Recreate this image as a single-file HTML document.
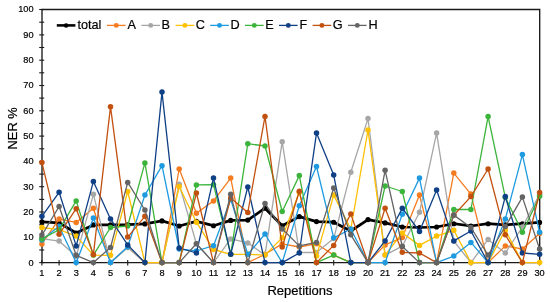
<!DOCTYPE html>
<html><head><meta charset="utf-8"><title>NER chart</title>
<style>
html,body{margin:0;padding:0;background:#fff;}
body{width:550px;height:302px;overflow:hidden;font-family:"Liberation Sans",sans-serif;}
svg{display:block;}
text{font-family:"Liberation Sans",sans-serif;fill:#000;stroke:#000;stroke-width:0.2px;}
</style></head><body>
<svg width="550" height="302" viewBox="0 0 550 302">
<rect width="550" height="302" fill="#fff"/>
<g stroke="#1a1a1a" stroke-width="1.35" fill="none"><path d="M41.4 9.5 H539.7 V262.6"/><path d="M42.0 9.5 V262.6 H540.3"/></g><g stroke="#1a1a1a" stroke-width="1.1"><line x1="39.2" x2="44.2" y1="262.6" y2="262.6"/><line x1="39.2" x2="44.2" y1="250.0" y2="250.0"/><line x1="39.2" x2="44.2" y1="237.3" y2="237.3"/><line x1="39.2" x2="44.2" y1="224.7" y2="224.7"/><line x1="39.2" x2="44.2" y1="212.0" y2="212.0"/><line x1="39.2" x2="44.2" y1="199.4" y2="199.4"/><line x1="39.2" x2="44.2" y1="186.7" y2="186.7"/><line x1="39.2" x2="44.2" y1="174.1" y2="174.1"/><line x1="39.2" x2="44.2" y1="161.4" y2="161.4"/><line x1="39.2" x2="44.2" y1="148.8" y2="148.8"/><line x1="39.2" x2="44.2" y1="136.1" y2="136.1"/><line x1="39.2" x2="44.2" y1="123.4" y2="123.4"/><line x1="39.2" x2="44.2" y1="110.8" y2="110.8"/><line x1="39.2" x2="44.2" y1="98.1" y2="98.1"/><line x1="39.2" x2="44.2" y1="85.5" y2="85.5"/><line x1="39.2" x2="44.2" y1="72.8" y2="72.8"/><line x1="39.2" x2="44.2" y1="60.2" y2="60.2"/><line x1="39.2" x2="44.2" y1="47.5" y2="47.5"/><line x1="39.2" x2="44.2" y1="34.9" y2="34.9"/><line x1="39.2" x2="44.2" y1="22.2" y2="22.2"/><line x1="39.2" x2="44.2" y1="9.5" y2="9.5"/><line x1="41.9" x2="41.9" y1="260.1" y2="265.4"/><line x1="59.1" x2="59.1" y1="260.1" y2="265.4"/><line x1="76.2" x2="76.2" y1="260.1" y2="265.4"/><line x1="93.4" x2="93.4" y1="260.1" y2="265.4"/><line x1="110.5" x2="110.5" y1="260.1" y2="265.4"/><line x1="127.7" x2="127.7" y1="260.1" y2="265.4"/><line x1="144.9" x2="144.9" y1="260.1" y2="265.4"/><line x1="162.0" x2="162.0" y1="260.1" y2="265.4"/><line x1="179.2" x2="179.2" y1="260.1" y2="265.4"/><line x1="196.4" x2="196.4" y1="260.1" y2="265.4"/><line x1="213.5" x2="213.5" y1="260.1" y2="265.4"/><line x1="230.7" x2="230.7" y1="260.1" y2="265.4"/><line x1="247.8" x2="247.8" y1="260.1" y2="265.4"/><line x1="265.0" x2="265.0" y1="260.1" y2="265.4"/><line x1="282.2" x2="282.2" y1="260.1" y2="265.4"/><line x1="299.3" x2="299.3" y1="260.1" y2="265.4"/><line x1="316.5" x2="316.5" y1="260.1" y2="265.4"/><line x1="333.7" x2="333.7" y1="260.1" y2="265.4"/><line x1="350.8" x2="350.8" y1="260.1" y2="265.4"/><line x1="368.0" x2="368.0" y1="260.1" y2="265.4"/><line x1="385.1" x2="385.1" y1="260.1" y2="265.4"/><line x1="402.3" x2="402.3" y1="260.1" y2="265.4"/><line x1="419.5" x2="419.5" y1="260.1" y2="265.4"/><line x1="436.6" x2="436.6" y1="260.1" y2="265.4"/><line x1="453.8" x2="453.8" y1="260.1" y2="265.4"/><line x1="470.9" x2="470.9" y1="260.1" y2="265.4"/><line x1="488.1" x2="488.1" y1="260.1" y2="265.4"/><line x1="505.3" x2="505.3" y1="260.1" y2="265.4"/><line x1="522.4" x2="522.4" y1="260.1" y2="265.4"/><line x1="539.6" x2="539.6" y1="260.1" y2="265.4"/></g>
<g><polyline points="41.9,221.9 59.1,222.9 76.2,233.0 93.4,224.9 110.5,224.9 127.7,224.7 144.9,223.9 162.0,220.9 179.2,226.0 196.4,221.4 213.5,225.7 230.7,220.4 247.8,220.1 265.0,208.2 282.2,225.7 299.3,216.6 316.5,221.6 333.7,222.2 350.8,231.0 368.0,219.6 385.1,222.9 402.3,227.0 419.5,227.5 436.6,227.0 453.8,223.7 470.9,226.0 488.1,223.7 505.3,224.9 522.4,223.7 539.6,222.4" fill="none" stroke="#000000" stroke-width="2.75" stroke-linejoin="round" stroke-linecap="round"/><circle cx="41.9" cy="221.9" r="2.55" fill="#000000"/><circle cx="59.1" cy="222.9" r="2.55" fill="#000000"/><circle cx="76.2" cy="233.0" r="2.55" fill="#000000"/><circle cx="93.4" cy="224.9" r="2.55" fill="#000000"/><circle cx="110.5" cy="224.9" r="2.55" fill="#000000"/><circle cx="127.7" cy="224.7" r="2.55" fill="#000000"/><circle cx="144.9" cy="223.9" r="2.55" fill="#000000"/><circle cx="162.0" cy="220.9" r="2.55" fill="#000000"/><circle cx="179.2" cy="226.0" r="2.55" fill="#000000"/><circle cx="196.4" cy="221.4" r="2.55" fill="#000000"/><circle cx="213.5" cy="225.7" r="2.55" fill="#000000"/><circle cx="230.7" cy="220.4" r="2.55" fill="#000000"/><circle cx="247.8" cy="220.1" r="2.55" fill="#000000"/><circle cx="265.0" cy="208.2" r="2.55" fill="#000000"/><circle cx="282.2" cy="225.7" r="2.55" fill="#000000"/><circle cx="299.3" cy="216.6" r="2.55" fill="#000000"/><circle cx="316.5" cy="221.6" r="2.55" fill="#000000"/><circle cx="333.7" cy="222.2" r="2.55" fill="#000000"/><circle cx="350.8" cy="231.0" r="2.55" fill="#000000"/><circle cx="368.0" cy="219.6" r="2.55" fill="#000000"/><circle cx="385.1" cy="222.9" r="2.55" fill="#000000"/><circle cx="402.3" cy="227.0" r="2.55" fill="#000000"/><circle cx="419.5" cy="227.5" r="2.55" fill="#000000"/><circle cx="436.6" cy="227.0" r="2.55" fill="#000000"/><circle cx="453.8" cy="223.7" r="2.55" fill="#000000"/><circle cx="470.9" cy="226.0" r="2.55" fill="#000000"/><circle cx="488.1" cy="223.7" r="2.55" fill="#000000"/><circle cx="505.3" cy="224.9" r="2.55" fill="#000000"/><circle cx="522.4" cy="223.7" r="2.55" fill="#000000"/><circle cx="539.6" cy="222.4" r="2.55" fill="#000000"/></g>
<g><polyline points="41.9,243.9 59.1,219.1 76.2,222.4 93.4,208.2 110.5,262.6 127.7,247.0 144.9,262.6 162.0,262.6 179.2,169.0 196.4,213.3 213.5,200.9 230.7,178.1 247.8,262.6 265.0,254.3 282.2,243.9 299.3,247.0 316.5,243.7 333.7,255.1 350.8,262.6 368.0,262.6 385.1,244.9 402.3,237.6 419.5,195.1 436.6,262.6 453.8,173.1 470.9,194.1 488.1,262.6 505.3,245.9 522.4,249.0 539.6,233.5" fill="none" stroke="#F47B20" stroke-width="1.3" stroke-linejoin="round" stroke-linecap="round"/><circle cx="41.9" cy="243.9" r="2.75" fill="#F47B20"/><circle cx="59.1" cy="219.1" r="2.75" fill="#F47B20"/><circle cx="76.2" cy="222.4" r="2.75" fill="#F47B20"/><circle cx="93.4" cy="208.2" r="2.75" fill="#F47B20"/><circle cx="110.5" cy="262.6" r="2.75" fill="#F47B20"/><circle cx="127.7" cy="247.0" r="2.75" fill="#F47B20"/><circle cx="144.9" cy="262.6" r="2.75" fill="#F47B20"/><circle cx="162.0" cy="262.6" r="2.75" fill="#F47B20"/><circle cx="179.2" cy="169.0" r="2.75" fill="#F47B20"/><circle cx="196.4" cy="213.3" r="2.75" fill="#F47B20"/><circle cx="213.5" cy="200.9" r="2.75" fill="#F47B20"/><circle cx="230.7" cy="178.1" r="2.75" fill="#F47B20"/><circle cx="247.8" cy="262.6" r="2.75" fill="#F47B20"/><circle cx="265.0" cy="254.3" r="2.75" fill="#F47B20"/><circle cx="282.2" cy="243.9" r="2.75" fill="#F47B20"/><circle cx="299.3" cy="247.0" r="2.75" fill="#F47B20"/><circle cx="316.5" cy="243.7" r="2.75" fill="#F47B20"/><circle cx="333.7" cy="255.1" r="2.75" fill="#F47B20"/><circle cx="350.8" cy="262.6" r="2.75" fill="#F47B20"/><circle cx="368.0" cy="262.6" r="2.75" fill="#F47B20"/><circle cx="385.1" cy="244.9" r="2.75" fill="#F47B20"/><circle cx="402.3" cy="237.6" r="2.75" fill="#F47B20"/><circle cx="419.5" cy="195.1" r="2.75" fill="#F47B20"/><circle cx="436.6" cy="262.6" r="2.75" fill="#F47B20"/><circle cx="453.8" cy="173.1" r="2.75" fill="#F47B20"/><circle cx="470.9" cy="194.1" r="2.75" fill="#F47B20"/><circle cx="488.1" cy="262.6" r="2.75" fill="#F47B20"/><circle cx="505.3" cy="245.9" r="2.75" fill="#F47B20"/><circle cx="522.4" cy="249.0" r="2.75" fill="#F47B20"/><circle cx="539.6" cy="233.5" r="2.75" fill="#F47B20"/></g>
<g><polyline points="41.9,238.6 59.1,241.1 76.2,256.3 93.4,194.3 110.5,262.6 127.7,247.5 144.9,262.6 162.0,262.6 179.2,184.2 196.4,243.7 213.5,262.6 230.7,238.9 247.8,242.9 265.0,255.1 282.2,141.7 299.3,252.5 316.5,252.5 333.7,238.6 350.8,172.3 368.0,118.6 385.1,255.1 402.3,246.2 419.5,212.3 436.6,133.1 453.8,241.1 470.9,262.6 488.1,239.4 505.3,253.0 522.4,227.0 539.6,194.3" fill="none" stroke="#A6A6A6" stroke-width="1.3" stroke-linejoin="round" stroke-linecap="round"/><circle cx="41.9" cy="238.6" r="2.75" fill="#A6A6A6"/><circle cx="59.1" cy="241.1" r="2.75" fill="#A6A6A6"/><circle cx="76.2" cy="256.3" r="2.75" fill="#A6A6A6"/><circle cx="93.4" cy="194.3" r="2.75" fill="#A6A6A6"/><circle cx="110.5" cy="262.6" r="2.75" fill="#A6A6A6"/><circle cx="127.7" cy="247.5" r="2.75" fill="#A6A6A6"/><circle cx="144.9" cy="262.6" r="2.75" fill="#A6A6A6"/><circle cx="162.0" cy="262.6" r="2.75" fill="#A6A6A6"/><circle cx="179.2" cy="184.2" r="2.75" fill="#A6A6A6"/><circle cx="196.4" cy="243.7" r="2.75" fill="#A6A6A6"/><circle cx="213.5" cy="262.6" r="2.75" fill="#A6A6A6"/><circle cx="230.7" cy="238.9" r="2.75" fill="#A6A6A6"/><circle cx="247.8" cy="242.9" r="2.75" fill="#A6A6A6"/><circle cx="265.0" cy="255.1" r="2.75" fill="#A6A6A6"/><circle cx="282.2" cy="141.7" r="2.75" fill="#A6A6A6"/><circle cx="299.3" cy="252.5" r="2.75" fill="#A6A6A6"/><circle cx="316.5" cy="252.5" r="2.75" fill="#A6A6A6"/><circle cx="333.7" cy="238.6" r="2.75" fill="#A6A6A6"/><circle cx="350.8" cy="172.3" r="2.75" fill="#A6A6A6"/><circle cx="368.0" cy="118.6" r="2.75" fill="#A6A6A6"/><circle cx="385.1" cy="255.1" r="2.75" fill="#A6A6A6"/><circle cx="402.3" cy="246.2" r="2.75" fill="#A6A6A6"/><circle cx="419.5" cy="212.3" r="2.75" fill="#A6A6A6"/><circle cx="436.6" cy="133.1" r="2.75" fill="#A6A6A6"/><circle cx="453.8" cy="241.1" r="2.75" fill="#A6A6A6"/><circle cx="470.9" cy="262.6" r="2.75" fill="#A6A6A6"/><circle cx="488.1" cy="239.4" r="2.75" fill="#A6A6A6"/><circle cx="505.3" cy="253.0" r="2.75" fill="#A6A6A6"/><circle cx="522.4" cy="227.0" r="2.75" fill="#A6A6A6"/><circle cx="539.6" cy="194.3" r="2.75" fill="#A6A6A6"/></g>
<g><polyline points="41.9,227.5 59.1,229.7 76.2,236.1 93.4,255.1 110.5,255.3 127.7,191.5 144.9,262.6 162.0,262.6 179.2,186.5 196.4,222.2 213.5,249.5 230.7,254.3 247.8,254.3 265.0,255.1 282.2,237.8 299.3,192.3 316.5,256.1 333.7,195.1 350.8,229.0 368.0,130.0 385.1,255.1 402.3,233.0 419.5,245.4 436.6,236.1 453.8,230.3 470.9,262.6 488.1,262.6 505.3,230.0 522.4,262.6 539.6,262.6" fill="none" stroke="#FFC000" stroke-width="1.3" stroke-linejoin="round" stroke-linecap="round"/><circle cx="41.9" cy="227.5" r="2.75" fill="#FFC000"/><circle cx="59.1" cy="229.7" r="2.75" fill="#FFC000"/><circle cx="76.2" cy="236.1" r="2.75" fill="#FFC000"/><circle cx="93.4" cy="255.1" r="2.75" fill="#FFC000"/><circle cx="110.5" cy="255.3" r="2.75" fill="#FFC000"/><circle cx="127.7" cy="191.5" r="2.75" fill="#FFC000"/><circle cx="144.9" cy="262.6" r="2.75" fill="#FFC000"/><circle cx="162.0" cy="262.6" r="2.75" fill="#FFC000"/><circle cx="179.2" cy="186.5" r="2.75" fill="#FFC000"/><circle cx="196.4" cy="222.2" r="2.75" fill="#FFC000"/><circle cx="213.5" cy="249.5" r="2.75" fill="#FFC000"/><circle cx="230.7" cy="254.3" r="2.75" fill="#FFC000"/><circle cx="247.8" cy="254.3" r="2.75" fill="#FFC000"/><circle cx="265.0" cy="255.1" r="2.75" fill="#FFC000"/><circle cx="282.2" cy="237.8" r="2.75" fill="#FFC000"/><circle cx="299.3" cy="192.3" r="2.75" fill="#FFC000"/><circle cx="316.5" cy="256.1" r="2.75" fill="#FFC000"/><circle cx="333.7" cy="195.1" r="2.75" fill="#FFC000"/><circle cx="350.8" cy="229.0" r="2.75" fill="#FFC000"/><circle cx="368.0" cy="130.0" r="2.75" fill="#FFC000"/><circle cx="385.1" cy="255.1" r="2.75" fill="#FFC000"/><circle cx="402.3" cy="233.0" r="2.75" fill="#FFC000"/><circle cx="419.5" cy="245.4" r="2.75" fill="#FFC000"/><circle cx="436.6" cy="236.1" r="2.75" fill="#FFC000"/><circle cx="453.8" cy="230.3" r="2.75" fill="#FFC000"/><circle cx="470.9" cy="262.6" r="2.75" fill="#FFC000"/><circle cx="488.1" cy="262.6" r="2.75" fill="#FFC000"/><circle cx="505.3" cy="230.0" r="2.75" fill="#FFC000"/><circle cx="522.4" cy="262.6" r="2.75" fill="#FFC000"/><circle cx="539.6" cy="262.6" r="2.75" fill="#FFC000"/></g>
<g><polyline points="41.9,239.9 59.1,226.2 76.2,262.6 93.4,218.1 110.5,262.6 127.7,246.7 144.9,195.1 162.0,165.7 179.2,249.0 196.4,251.0 213.5,245.7 230.7,199.4 247.8,254.3 265.0,234.0 282.2,262.6 299.3,205.7 316.5,166.5 333.7,237.8 350.8,229.0 368.0,262.6 385.1,262.6 402.3,214.3 419.5,178.1 436.6,262.6 453.8,256.1 470.9,242.4 488.1,262.6 505.3,219.1 522.4,154.6 539.6,232.3" fill="none" stroke="#1E9BE0" stroke-width="1.3" stroke-linejoin="round" stroke-linecap="round"/><circle cx="41.9" cy="239.9" r="2.75" fill="#1E9BE0"/><circle cx="59.1" cy="226.2" r="2.75" fill="#1E9BE0"/><circle cx="76.2" cy="262.6" r="2.75" fill="#1E9BE0"/><circle cx="93.4" cy="218.1" r="2.75" fill="#1E9BE0"/><circle cx="110.5" cy="262.6" r="2.75" fill="#1E9BE0"/><circle cx="127.7" cy="246.7" r="2.75" fill="#1E9BE0"/><circle cx="144.9" cy="195.1" r="2.75" fill="#1E9BE0"/><circle cx="162.0" cy="165.7" r="2.75" fill="#1E9BE0"/><circle cx="179.2" cy="249.0" r="2.75" fill="#1E9BE0"/><circle cx="196.4" cy="251.0" r="2.75" fill="#1E9BE0"/><circle cx="213.5" cy="245.7" r="2.75" fill="#1E9BE0"/><circle cx="230.7" cy="199.4" r="2.75" fill="#1E9BE0"/><circle cx="247.8" cy="254.3" r="2.75" fill="#1E9BE0"/><circle cx="265.0" cy="234.0" r="2.75" fill="#1E9BE0"/><circle cx="282.2" cy="262.6" r="2.75" fill="#1E9BE0"/><circle cx="299.3" cy="205.7" r="2.75" fill="#1E9BE0"/><circle cx="316.5" cy="166.5" r="2.75" fill="#1E9BE0"/><circle cx="333.7" cy="237.8" r="2.75" fill="#1E9BE0"/><circle cx="350.8" cy="229.0" r="2.75" fill="#1E9BE0"/><circle cx="368.0" cy="262.6" r="2.75" fill="#1E9BE0"/><circle cx="385.1" cy="262.6" r="2.75" fill="#1E9BE0"/><circle cx="402.3" cy="214.3" r="2.75" fill="#1E9BE0"/><circle cx="419.5" cy="178.1" r="2.75" fill="#1E9BE0"/><circle cx="436.6" cy="262.6" r="2.75" fill="#1E9BE0"/><circle cx="453.8" cy="256.1" r="2.75" fill="#1E9BE0"/><circle cx="470.9" cy="242.4" r="2.75" fill="#1E9BE0"/><circle cx="488.1" cy="262.6" r="2.75" fill="#1E9BE0"/><circle cx="505.3" cy="219.1" r="2.75" fill="#1E9BE0"/><circle cx="522.4" cy="154.6" r="2.75" fill="#1E9BE0"/><circle cx="539.6" cy="232.3" r="2.75" fill="#1E9BE0"/></g>
<g><polyline points="41.9,238.9 59.1,229.7 76.2,200.9 93.4,255.1 110.5,227.5 127.7,226.0 144.9,162.9 162.0,262.6 179.2,262.6 196.4,184.9 213.5,184.7 230.7,254.3 247.8,143.7 265.0,146.0 282.2,211.5 299.3,175.6 316.5,262.6 333.7,255.1 350.8,262.6 368.0,262.6 385.1,186.0 402.3,191.5 419.5,262.6 436.6,262.6 453.8,209.5 470.9,209.5 488.1,116.6 505.3,197.4 522.4,232.3 539.6,196.3" fill="none" stroke="#3CB43C" stroke-width="1.3" stroke-linejoin="round" stroke-linecap="round"/><circle cx="41.9" cy="238.9" r="2.75" fill="#3CB43C"/><circle cx="59.1" cy="229.7" r="2.75" fill="#3CB43C"/><circle cx="76.2" cy="200.9" r="2.75" fill="#3CB43C"/><circle cx="93.4" cy="255.1" r="2.75" fill="#3CB43C"/><circle cx="110.5" cy="227.5" r="2.75" fill="#3CB43C"/><circle cx="127.7" cy="226.0" r="2.75" fill="#3CB43C"/><circle cx="144.9" cy="162.9" r="2.75" fill="#3CB43C"/><circle cx="162.0" cy="262.6" r="2.75" fill="#3CB43C"/><circle cx="179.2" cy="262.6" r="2.75" fill="#3CB43C"/><circle cx="196.4" cy="184.9" r="2.75" fill="#3CB43C"/><circle cx="213.5" cy="184.7" r="2.75" fill="#3CB43C"/><circle cx="230.7" cy="254.3" r="2.75" fill="#3CB43C"/><circle cx="247.8" cy="143.7" r="2.75" fill="#3CB43C"/><circle cx="265.0" cy="146.0" r="2.75" fill="#3CB43C"/><circle cx="282.2" cy="211.5" r="2.75" fill="#3CB43C"/><circle cx="299.3" cy="175.6" r="2.75" fill="#3CB43C"/><circle cx="316.5" cy="262.6" r="2.75" fill="#3CB43C"/><circle cx="333.7" cy="255.1" r="2.75" fill="#3CB43C"/><circle cx="350.8" cy="262.6" r="2.75" fill="#3CB43C"/><circle cx="368.0" cy="262.6" r="2.75" fill="#3CB43C"/><circle cx="385.1" cy="186.0" r="2.75" fill="#3CB43C"/><circle cx="402.3" cy="191.5" r="2.75" fill="#3CB43C"/><circle cx="419.5" cy="262.6" r="2.75" fill="#3CB43C"/><circle cx="436.6" cy="262.6" r="2.75" fill="#3CB43C"/><circle cx="453.8" cy="209.5" r="2.75" fill="#3CB43C"/><circle cx="470.9" cy="209.5" r="2.75" fill="#3CB43C"/><circle cx="488.1" cy="116.6" r="2.75" fill="#3CB43C"/><circle cx="505.3" cy="197.4" r="2.75" fill="#3CB43C"/><circle cx="522.4" cy="232.3" r="2.75" fill="#3CB43C"/><circle cx="539.6" cy="196.3" r="2.75" fill="#3CB43C"/></g>
<g><polyline points="41.9,216.3 59.1,192.3 76.2,245.9 93.4,181.4 110.5,218.9 127.7,244.9 144.9,262.6 162.0,92.1 179.2,248.0 196.4,253.0 213.5,178.1 230.7,254.3 247.8,187.0 265.0,262.6 282.2,262.6 299.3,253.0 316.5,133.1 333.7,175.1 350.8,262.6 368.0,262.6 385.1,240.9 402.3,208.2 419.5,231.5 436.6,190.0 453.8,240.9 470.9,231.0 488.1,262.6 505.3,196.6 522.4,253.0 539.6,254.3" fill="none" stroke="#0F3F85" stroke-width="1.3" stroke-linejoin="round" stroke-linecap="round"/><circle cx="41.9" cy="216.3" r="2.75" fill="#0F3F85"/><circle cx="59.1" cy="192.3" r="2.75" fill="#0F3F85"/><circle cx="76.2" cy="245.9" r="2.75" fill="#0F3F85"/><circle cx="93.4" cy="181.4" r="2.75" fill="#0F3F85"/><circle cx="110.5" cy="218.9" r="2.75" fill="#0F3F85"/><circle cx="127.7" cy="244.9" r="2.75" fill="#0F3F85"/><circle cx="144.9" cy="262.6" r="2.75" fill="#0F3F85"/><circle cx="162.0" cy="92.1" r="2.75" fill="#0F3F85"/><circle cx="179.2" cy="248.0" r="2.75" fill="#0F3F85"/><circle cx="196.4" cy="253.0" r="2.75" fill="#0F3F85"/><circle cx="213.5" cy="178.1" r="2.75" fill="#0F3F85"/><circle cx="230.7" cy="254.3" r="2.75" fill="#0F3F85"/><circle cx="247.8" cy="187.0" r="2.75" fill="#0F3F85"/><circle cx="265.0" cy="262.6" r="2.75" fill="#0F3F85"/><circle cx="282.2" cy="262.6" r="2.75" fill="#0F3F85"/><circle cx="299.3" cy="253.0" r="2.75" fill="#0F3F85"/><circle cx="316.5" cy="133.1" r="2.75" fill="#0F3F85"/><circle cx="333.7" cy="175.1" r="2.75" fill="#0F3F85"/><circle cx="350.8" cy="262.6" r="2.75" fill="#0F3F85"/><circle cx="368.0" cy="262.6" r="2.75" fill="#0F3F85"/><circle cx="385.1" cy="240.9" r="2.75" fill="#0F3F85"/><circle cx="402.3" cy="208.2" r="2.75" fill="#0F3F85"/><circle cx="419.5" cy="231.5" r="2.75" fill="#0F3F85"/><circle cx="436.6" cy="190.0" r="2.75" fill="#0F3F85"/><circle cx="453.8" cy="240.9" r="2.75" fill="#0F3F85"/><circle cx="470.9" cy="231.0" r="2.75" fill="#0F3F85"/><circle cx="488.1" cy="262.6" r="2.75" fill="#0F3F85"/><circle cx="505.3" cy="196.6" r="2.75" fill="#0F3F85"/><circle cx="522.4" cy="253.0" r="2.75" fill="#0F3F85"/><circle cx="539.6" cy="254.3" r="2.75" fill="#0F3F85"/></g>
<g><polyline points="41.9,162.4 59.1,234.3 76.2,208.7 93.4,254.6 110.5,106.7 127.7,237.1 144.9,216.3 162.0,262.6 179.2,262.6 196.4,193.0 213.5,262.6 230.7,198.1 247.8,212.5 265.0,116.4 282.2,247.0 299.3,191.3 316.5,262.6 333.7,245.4 350.8,214.1 368.0,262.6 385.1,208.2 402.3,252.3 419.5,253.0 436.6,262.6 453.8,215.3 470.9,196.6 488.1,169.0 505.3,234.8 522.4,262.6 539.6,192.5" fill="none" stroke="#C2500E" stroke-width="1.3" stroke-linejoin="round" stroke-linecap="round"/><circle cx="41.9" cy="162.4" r="2.75" fill="#C2500E"/><circle cx="59.1" cy="234.3" r="2.75" fill="#C2500E"/><circle cx="76.2" cy="208.7" r="2.75" fill="#C2500E"/><circle cx="93.4" cy="254.6" r="2.75" fill="#C2500E"/><circle cx="110.5" cy="106.7" r="2.75" fill="#C2500E"/><circle cx="127.7" cy="237.1" r="2.75" fill="#C2500E"/><circle cx="144.9" cy="216.3" r="2.75" fill="#C2500E"/><circle cx="162.0" cy="262.6" r="2.75" fill="#C2500E"/><circle cx="179.2" cy="262.6" r="2.75" fill="#C2500E"/><circle cx="196.4" cy="193.0" r="2.75" fill="#C2500E"/><circle cx="213.5" cy="262.6" r="2.75" fill="#C2500E"/><circle cx="230.7" cy="198.1" r="2.75" fill="#C2500E"/><circle cx="247.8" cy="212.5" r="2.75" fill="#C2500E"/><circle cx="265.0" cy="116.4" r="2.75" fill="#C2500E"/><circle cx="282.2" cy="247.0" r="2.75" fill="#C2500E"/><circle cx="299.3" cy="191.3" r="2.75" fill="#C2500E"/><circle cx="316.5" cy="262.6" r="2.75" fill="#C2500E"/><circle cx="333.7" cy="245.4" r="2.75" fill="#C2500E"/><circle cx="350.8" cy="214.1" r="2.75" fill="#C2500E"/><circle cx="368.0" cy="262.6" r="2.75" fill="#C2500E"/><circle cx="385.1" cy="208.2" r="2.75" fill="#C2500E"/><circle cx="402.3" cy="252.3" r="2.75" fill="#C2500E"/><circle cx="419.5" cy="253.0" r="2.75" fill="#C2500E"/><circle cx="436.6" cy="262.6" r="2.75" fill="#C2500E"/><circle cx="453.8" cy="215.3" r="2.75" fill="#C2500E"/><circle cx="470.9" cy="196.6" r="2.75" fill="#C2500E"/><circle cx="488.1" cy="169.0" r="2.75" fill="#C2500E"/><circle cx="505.3" cy="234.8" r="2.75" fill="#C2500E"/><circle cx="522.4" cy="262.6" r="2.75" fill="#C2500E"/><circle cx="539.6" cy="192.5" r="2.75" fill="#C2500E"/></g>
<g><polyline points="41.9,235.1 59.1,206.5 76.2,255.3 93.4,262.6 110.5,247.5 127.7,182.4 144.9,210.0 162.0,262.6 179.2,262.6 196.4,243.7 213.5,262.6 230.7,194.3 247.8,262.6 265.0,203.4 282.2,229.0 299.3,245.9 316.5,242.4 333.7,188.0 350.8,234.8 368.0,262.6 385.1,170.3 402.3,246.5 419.5,262.6 436.6,262.6 453.8,215.1 470.9,227.5 488.1,255.1 505.3,226.5 522.4,197.1 539.6,249.0" fill="none" stroke="#646464" stroke-width="1.3" stroke-linejoin="round" stroke-linecap="round"/><circle cx="41.9" cy="235.1" r="2.75" fill="#646464"/><circle cx="59.1" cy="206.5" r="2.75" fill="#646464"/><circle cx="76.2" cy="255.3" r="2.75" fill="#646464"/><circle cx="93.4" cy="262.6" r="2.75" fill="#646464"/><circle cx="110.5" cy="247.5" r="2.75" fill="#646464"/><circle cx="127.7" cy="182.4" r="2.75" fill="#646464"/><circle cx="144.9" cy="210.0" r="2.75" fill="#646464"/><circle cx="162.0" cy="262.6" r="2.75" fill="#646464"/><circle cx="179.2" cy="262.6" r="2.75" fill="#646464"/><circle cx="196.4" cy="243.7" r="2.75" fill="#646464"/><circle cx="213.5" cy="262.6" r="2.75" fill="#646464"/><circle cx="230.7" cy="194.3" r="2.75" fill="#646464"/><circle cx="247.8" cy="262.6" r="2.75" fill="#646464"/><circle cx="265.0" cy="203.4" r="2.75" fill="#646464"/><circle cx="282.2" cy="229.0" r="2.75" fill="#646464"/><circle cx="299.3" cy="245.9" r="2.75" fill="#646464"/><circle cx="316.5" cy="242.4" r="2.75" fill="#646464"/><circle cx="333.7" cy="188.0" r="2.75" fill="#646464"/><circle cx="350.8" cy="234.8" r="2.75" fill="#646464"/><circle cx="368.0" cy="262.6" r="2.75" fill="#646464"/><circle cx="385.1" cy="170.3" r="2.75" fill="#646464"/><circle cx="402.3" cy="246.5" r="2.75" fill="#646464"/><circle cx="419.5" cy="262.6" r="2.75" fill="#646464"/><circle cx="436.6" cy="262.6" r="2.75" fill="#646464"/><circle cx="453.8" cy="215.1" r="2.75" fill="#646464"/><circle cx="470.9" cy="227.5" r="2.75" fill="#646464"/><circle cx="488.1" cy="255.1" r="2.75" fill="#646464"/><circle cx="505.3" cy="226.5" r="2.75" fill="#646464"/><circle cx="522.4" cy="197.1" r="2.75" fill="#646464"/><circle cx="539.6" cy="249.0" r="2.75" fill="#646464"/></g>
<g font-size="9.2" text-anchor="end"><text x="33.5" y="265.5">0</text><text x="33.5" y="240.2">10</text><text x="33.5" y="214.9">20</text><text x="33.5" y="189.6">30</text><text x="33.5" y="164.3">40</text><text x="33.5" y="139.0">50</text><text x="33.5" y="113.7">60</text><text x="33.5" y="88.4">70</text><text x="33.5" y="63.1">80</text><text x="33.5" y="37.8">90</text><text x="33.5" y="12.4">100</text></g><g font-size="9.2" text-anchor="middle"><text x="41.9" y="276.1">1</text><text x="59.1" y="276.1">2</text><text x="76.2" y="276.1">3</text><text x="93.4" y="276.1">4</text><text x="110.5" y="276.1">5</text><text x="127.7" y="276.1">6</text><text x="144.9" y="276.1">7</text><text x="162.0" y="276.1">8</text><text x="179.2" y="276.1">9</text><text x="196.4" y="276.1">10</text><text x="213.5" y="276.1">11</text><text x="230.7" y="276.1">12</text><text x="247.8" y="276.1">13</text><text x="265.0" y="276.1">14</text><text x="282.2" y="276.1">15</text><text x="299.3" y="276.1">16</text><text x="316.5" y="276.1">17</text><text x="333.7" y="276.1">18</text><text x="350.8" y="276.1">19</text><text x="368.0" y="276.1">20</text><text x="385.1" y="276.1">21</text><text x="402.3" y="276.1">22</text><text x="419.5" y="276.1">23</text><text x="436.6" y="276.1">24</text><text x="453.8" y="276.1">25</text><text x="470.9" y="276.1">26</text><text x="488.1" y="276.1">27</text><text x="505.3" y="276.1">28</text><text x="522.4" y="276.1">29</text><text x="539.6" y="276.1">30</text></g><text x="300" y="295" font-size="13" text-anchor="middle">Repetitions</text><text transform="translate(16.9,128.4) rotate(-90)" font-size="12.9" text-anchor="middle">NER %</text><g font-size="12.7"><line x1="56.8" x2="75.4" y1="25.4" y2="25.4" stroke="#000000" stroke-width="2.55"/><circle cx="66.1" cy="25.4" r="2.25" fill="#000000"/><text x="77.4" y="29.1">total</text><line x1="107.0" x2="125.6" y1="25.4" y2="25.4" stroke="#F47B20" stroke-width="1.3"/><circle cx="116.3" cy="25.4" r="2.45" fill="#F47B20"/><text x="127.6" y="29.1">A</text><line x1="141.4" x2="160.0" y1="25.4" y2="25.4" stroke="#A6A6A6" stroke-width="1.3"/><circle cx="150.7" cy="25.4" r="2.45" fill="#A6A6A6"/><text x="161.4" y="29.1">B</text><line x1="175.6" x2="194.2" y1="25.4" y2="25.4" stroke="#FFC000" stroke-width="1.3"/><circle cx="184.9" cy="25.4" r="2.45" fill="#FFC000"/><text x="195.8" y="29.1">C</text><line x1="210.2" x2="228.8" y1="25.4" y2="25.4" stroke="#1E9BE0" stroke-width="1.3"/><circle cx="219.5" cy="25.4" r="2.45" fill="#1E9BE0"/><text x="230.6" y="29.1">D</text><line x1="245.0" x2="263.6" y1="25.4" y2="25.4" stroke="#3CB43C" stroke-width="1.3"/><circle cx="254.3" cy="25.4" r="2.45" fill="#3CB43C"/><text x="265.2" y="29.1">E</text><line x1="279.0" x2="297.6" y1="25.4" y2="25.4" stroke="#0F3F85" stroke-width="1.3"/><circle cx="288.3" cy="25.4" r="2.45" fill="#0F3F85"/><text x="299.4" y="29.1">F</text><line x1="312.6" x2="331.2" y1="25.4" y2="25.4" stroke="#C2500E" stroke-width="1.3"/><circle cx="321.9" cy="25.4" r="2.45" fill="#C2500E"/><text x="332.8" y="29.1">G</text><line x1="348.0" x2="366.6" y1="25.4" y2="25.4" stroke="#646464" stroke-width="1.3"/><circle cx="357.3" cy="25.4" r="2.45" fill="#646464"/><text x="368.6" y="29.1">H</text></g></svg></body></html>
